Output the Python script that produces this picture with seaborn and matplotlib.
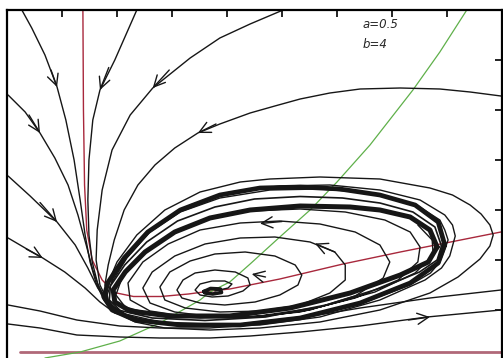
import matplotlib
matplotlib.use("Agg")
import matplotlib.pyplot as plt
import seaborn as sns

sns.set_style("white")
plt.rcParams['font.family'] = ['DejaVu Sans']

# ---- parameters shown on the chart ----
param_labels = ["a=0.5", "b=4"]

# ---- nullclines (data units) ----
null_x_red = [(1.38, 7.0), (1.39, 5.0), (1.41, 3.5), (1.45, 2.6), (1.55, 2.0), (1.73, 1.6),
              (1.95, 1.35), (2.3, 1.27), (2.8, 1.27), (3.3, 1.32), (3.7, 1.38), (4.05, 1.42),
              (4.96, 1.62), (6.11, 1.92), (7.15, 2.16), (8.98, 2.56)]
null_x_red_low = [(0.24, 0.16), (9.0, 0.16)]
null_y_green = [(0.69, 0.04), (1.33, 0.16), (2.05, 0.38), (2.78, 0.74), (3.51, 1.2), (3.69, 1.36),
                (4.05, 1.56), (4.42, 1.92), (4.96, 2.46), (5.51, 3.0), (6.0, 3.56), (6.6, 4.3),
                (7.38, 5.4), (7.87, 6.16), (8.36, 7.0)]

# ---- trajectories from outside (data units) ----
traj_top1 = [(0.27, 7.0), (0.45, 6.64), (0.69, 6.1), (0.91, 5.46), (1.07, 4.8), (1.22, 4.0), (1.33, 3.2),
             (1.42, 2.5), (1.51, 1.96), (1.62, 1.54), (1.76, 1.2), (1.96, 0.96), (2.33, 0.76), (2.87, 0.64),
             (3.69, 0.6), (4.6, 0.64), (5.69, 0.76), (6.78, 1.0), (7.69, 1.34), (8.2, 1.66), (8.6, 2.02),
             (8.78, 2.28), (8.84, 2.5), (8.78, 2.7), (8.62, 2.92), (8.42, 3.1), (8.1, 3.3), (7.69, 3.44),
             (6.78, 3.62), (5.69, 3.66), (4.78, 3.62), (4.24, 3.56), (3.51, 3.36), (2.87, 3.0), (2.36, 2.5),
             (2.0, 1.96), (1.8, 1.44), (1.84, 1.14), (2.05, 0.92), (2.6, 0.76), (3.51, 0.68), (4.6, 0.72)]
traj_top2 = [(2.36, 7.0), (2.2, 6.6), (1.96, 6.0), (1.69, 5.4), (1.56, 4.8), (1.49, 4.0), (1.47, 3.2),
             (1.49, 2.5), (1.55, 1.96), (1.65, 1.52), (1.8, 1.2), (2.02, 0.96), (2.42, 0.8), (3.15, 0.72),
             (4.24, 0.72), (5.33, 0.84), (6.42, 1.12), (7.33, 1.5), (7.7, 1.74), (7.87, 1.96), (8.02, 2.4),
             (7.96, 2.6), (7.87, 2.8), (7.42, 3.12), (6.6, 3.34), (5.69, 3.42), (4.78, 3.4), (3.87, 3.24),
             (3.15, 2.96), (2.6, 2.56), (2.18, 2.04), (1.91, 1.56)]
traj_top3 = [(5.02, 7.0), (4.42, 6.72), (3.87, 6.44), (3.33, 6.04), (2.65, 5.44), (2.24, 4.9), (1.91, 4.2),
             (1.73, 3.4), (1.64, 2.6), (1.62, 2.0), (1.69, 1.5), (1.84, 1.16), (2.09, 0.92), (2.6, 0.76),
             (3.51, 0.68), (4.6, 0.7), (5.69, 0.86), (6.78, 1.2), (7.6, 1.6), (7.9, 1.84), (8.05, 2.08),
             (8.15, 2.48), (8.1, 2.7), (7.96, 2.9), (7.51, 3.2), (6.78, 3.4), (5.87, 3.5), (4.96, 3.48),
             (4.05, 3.36), (3.33, 3.1), (2.69, 2.68), (2.24, 2.16), (1.93, 1.64), (1.8, 1.24)]
traj_right = [(8.98, 5.28), (8.42, 5.36), (7.87, 5.42), (7.15, 5.44), (6.42, 5.42), (5.87, 5.34), (5.33, 5.22),
              (4.87, 5.08), (4.42, 4.94), (3.87, 4.72), (3.47, 4.54), (3.05, 4.24), (2.69, 3.9), (2.38, 3.5),
              (2.13, 3.0), (1.95, 2.4), (1.84, 1.9), (1.78, 1.5), (1.84, 1.2), (2.02, 0.96), (2.42, 0.8),
              (3.24, 0.7), (4.24, 0.72), (5.33, 0.86), (6.42, 1.14), (7.33, 1.52), (7.84, 1.96), (7.96, 2.36)]
traj_left1 = [(0.02, 5.3), (0.33, 4.96), (0.6, 4.54), (0.87, 4.04), (1.11, 3.5), (1.29, 2.9), (1.44, 2.3),
              (1.56, 1.8), (1.69, 1.4), (1.87, 1.1), (2.2, 0.88), (2.78, 0.74), (3.69, 0.7)]
traj_left2 = [(0.02, 3.68), (0.42, 3.28), (0.91, 2.76), (1.24, 2.3), (1.47, 1.84), (1.65, 1.44), (1.84, 1.14),
              (2.15, 0.92), (2.78, 0.76), (3.69, 0.72)]
traj_left3 = [(0.02, 2.44), (0.33, 2.24), (0.65, 2.04), (1.05, 1.76), (1.42, 1.44), (1.69, 1.16), (1.96, 0.94),
              (2.42, 0.8), (3.15, 0.7), (4.05, 0.7)]
traj_low1 = [(0.02, 1.1), (0.6, 0.98), (1.27, 0.8), (2.05, 0.68), (2.78, 0.64), (3.69, 0.64), (4.42, 0.7),
             (5.33, 0.84), (6.42, 1.04), (7.69, 1.24), (8.98, 1.4)]
traj_low2 = [(0.02, 0.72), (0.6, 0.64), (1.27, 0.5), (2.05, 0.46), (2.78, 0.44), (3.69, 0.44), (4.42, 0.48),
             (5.33, 0.56), (6.42, 0.68), (7.64, 0.86), (8.98, 1.0)]

# ---- spiral from the equilibrium (data units) ----
traj_spiral = [(3.78, 1.38), (4.02, 1.44), (4.09, 1.52), (3.96, 1.58), (3.73, 1.58), (3.51, 1.52), (3.42, 1.4),
               (3.51, 1.3), (3.73, 1.26), (4.02, 1.28), (4.29, 1.38), (4.42, 1.5),
               (4.38, 1.64), (4.15, 1.76), (3.78, 1.8), (3.42, 1.74), (3.2, 1.6), (3.09, 1.4), (3.18, 1.24),
               (3.51, 1.14), (3.96, 1.1), (4.51, 1.16), (4.96, 1.3), (5.29, 1.5), (5.36, 1.7),
               (5.24, 1.9), (4.87, 2.08), (4.33, 2.16), (3.78, 2.12), (3.33, 1.98), (2.96, 1.76), (2.78, 1.46),
               (2.87, 1.2), (3.24, 1.04), (3.87, 0.96), (4.6, 0.98), (5.33, 1.1), (5.87, 1.34), (6.15, 1.6),
               (6.15, 1.9),
               (5.96, 2.16), (5.51, 2.36), (4.87, 2.46), (4.24, 2.44), (3.6, 2.32), (3.05, 2.08), (2.64, 1.76),
               (2.47, 1.44), (2.6, 1.14), (3.05, 0.96), (3.78, 0.86), (4.6, 0.86), (5.51, 1.0), (6.33, 1.28),
               (6.84, 1.64), (6.96, 1.96),
               (6.78, 2.3), (6.33, 2.56), (5.69, 2.72), (4.96, 2.78), (4.24, 2.74), (3.51, 2.6), (2.93, 2.32),
               (2.47, 1.96), (2.2, 1.54), (2.24, 1.2), (2.6, 0.98), (3.33, 0.86), (4.24, 0.84), (5.33, 0.96),
               (6.33, 1.24), (7.11, 1.6), (7.47, 1.96), (7.51, 2.26),
               (7.33, 2.56), (6.87, 2.8), (6.15, 2.96), (5.33, 3.02), (4.42, 2.98), (3.6, 2.8), (2.93, 2.48),
               (2.42, 2.08), (2.09, 1.64), (1.98, 1.3), (2.15, 1.06), (2.69, 0.9), (3.51, 0.84), (4.6, 0.88),
               (5.69, 1.06), (6.69, 1.36), (7.42, 1.74), (7.75, 2.1), (7.73, 2.4), (7.47, 2.7)]
equilibrium_core = [(3.58, 1.37), (3.7, 1.43), (3.88, 1.42), (3.9, 1.35), (3.74, 1.32), (3.6, 1.34), (3.58, 1.37)]

# ---- limit-cycle band (data units) ----
cycle_outer = [(7.96, 2.3), (7.84, 2.76), (7.42, 3.1), (6.78, 3.3), (6.05, 3.42), (5.33, 3.46), (4.6, 3.44),
               (3.87, 3.3), (3.15, 3.0), (2.56, 2.56), (2.13, 2.04), (1.84, 1.56), (1.76, 1.26), (1.91, 1.0),
               (2.33, 0.8), (3.15, 0.7), (4.24, 0.7), (5.33, 0.84), (6.42, 1.14), (7.33, 1.54), (7.84, 1.94),
               (7.96, 2.3)]
cycle_mid = [(7.9, 2.28), (7.78, 2.66), (7.38, 2.96), (6.78, 3.14), (6.1, 3.24), (5.33, 3.27), (4.5, 3.22),
             (3.78, 3.06), (3.1, 2.78), (2.54, 2.36), (2.14, 1.9), (1.88, 1.48), (1.86, 1.2), (2.06, 0.99),
             (2.64, 0.84), (3.6, 0.79), (4.7, 0.86), (5.8, 1.1), (6.8, 1.44), (7.5, 1.76), (7.82, 2.0),
             (7.9, 2.28)]
cycle_inner = [(7.82, 2.26), (7.69, 2.6), (7.33, 2.86), (6.78, 3.0), (6.24, 3.06), (5.33, 3.08), (4.42, 3.0),
               (3.69, 2.84), (3.05, 2.56), (2.51, 2.16), (2.15, 1.76), (1.93, 1.4), (1.96, 1.16), (2.24, 0.98),
               (2.96, 0.88), (4.05, 0.88), (5.15, 1.04), (6.24, 1.34), (7.15, 1.7), (7.66, 1.96), (7.82, 2.26)]

# ---- direction arrows: (tail, tip) ----
arrows = [((0.8, 5.8), (0.91, 5.46)), ((1.85, 5.85), (1.69, 5.4)), ((2.95, 5.8), (2.65, 5.44)),
          ((3.8, 4.72), (3.47, 4.54)), ((0.4, 4.9), (0.6, 4.54)), ((0.6, 3.15), (0.91, 2.76)),
          ((0.35, 2.22), (0.65, 2.04)), ((7.3, 0.8), (7.69, 0.86)), ((5.0, 2.77), (4.6, 2.73)),
          ((5.96, 2.16), (5.6, 2.33)), ((4.7, 1.66), (4.45, 1.72))]

fig = plt.figure(figsize=(5.03, 3.58), dpi=100)
ax = fig.add_axes([7 / 503, -2 / 358, 495 / 503, 350 / 358])


def draw(pts, color, lw, z=2):
    xs = [p[0] for p in pts]
    ys = [p[1] for p in pts]
    sns.lineplot(x=xs, y=ys, sort=False, estimator=None, color=color, lw=lw, ax=ax,
                 legend=False, zorder=z)


draw(null_x_red, "#a8283c", 1.0, 1)
draw(null_x_red_low, "#b06878", 2.0, 1)
draw(null_y_green, "#5fb04a", 0.9, 1)

line_k = "#161616"
for tr in [traj_top1, traj_top2, traj_top3, traj_right, traj_left1, traj_left2, traj_left3,
           traj_low1, traj_low2, traj_spiral]:
    draw(tr, line_k, 1.0)

draw(equilibrium_core, line_k, 2.6, 3)
draw(cycle_outer, line_k, 3.4, 3)
draw(cycle_mid, line_k, 1.2, 3)
draw(cycle_inner, line_k, 3.6, 3)

for tail, tip in arrows:
    ax.annotate("", xy=tip, xytext=tail,
                arrowprops=dict(arrowstyle="->,head_length=0.8,head_width=0.4",
                                color=line_k, lw=1.0, shrinkA=0, shrinkB=0))

ax.text(6.47, 6.72, param_labels[0], fontsize=8.5, style="italic", ha="left", va="center")
ax.text(6.47, 6.3, param_labels[1], fontsize=8.5, style="italic", ha="left", va="center")

ax.set_xlim(0, 9)
ax.set_ylim(0, 7)
ax.set_xticks(range(1, 9))
ax.set_yticks(range(1, 7))
ax.tick_params(direction="in", length=5, width=1.2, top=True, right=True,
               labelbottom=False, labelleft=False, color="k")
for s in ax.spines.values():
    s.set_visible(True)
    s.set_linewidth(1.6)
    s.set_color("k")
ax.set_xlabel("")
ax.set_ylabel("")

fig.savefig("out.png", dpi=100)
